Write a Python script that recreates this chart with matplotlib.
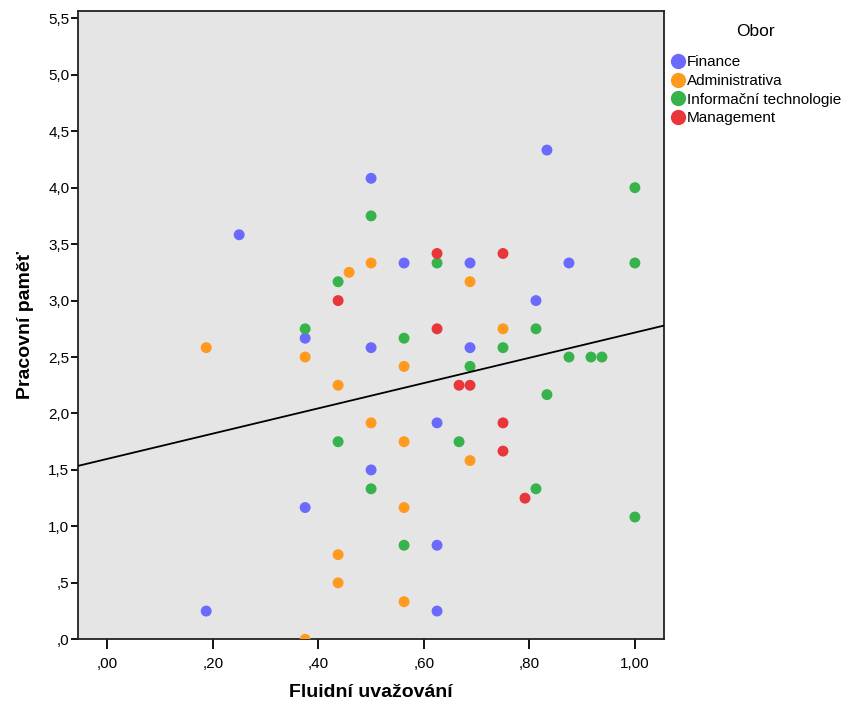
import numpy as np
import matplotlib.pyplot as plt
from matplotlib.lines import Line2D

plt.rcParams['font.family'] = ['Liberation Sans', 'DejaVu Sans']

# Data (x = Fluidní uvažování, y = Pracovní paměť)
finance_x = [0.1875, 0.25, 0.375, 0.375, 0.5, 0.5, 0.5, 0.5625, 0.625, 0.625, 0.625,
             0.6875, 0.6875, 0.8125, 0.8333, 0.875]
finance_y = [0.25, 3.583, 2.667, 1.167, 4.083, 2.583, 1.5, 3.333, 1.917, 0.833, 0.25,
             3.333, 2.583, 3.0, 4.333, 3.333]

admin_x = [0.1875, 0.375, 0.375, 0.4375, 0.4375, 0.4375, 0.4583, 0.5, 0.5, 0.5625,
           0.5625, 0.5625, 0.5625, 0.6875, 0.6875, 0.75]
admin_y = [2.583, 2.5, 0.0, 2.25, 0.75, 0.5, 3.25, 3.333, 1.917, 2.417,
           1.75, 1.167, 0.333, 3.167, 1.583, 2.75]

it_x = [0.375, 0.4375, 0.4375, 0.5, 0.5, 0.5625, 0.5625, 0.625, 0.6667, 0.6875,
        0.75, 0.8125, 0.8125, 0.8333, 0.875, 0.9167, 0.9375, 1.0, 1.0, 1.0]
it_y = [2.75, 3.167, 1.75, 3.75, 1.333, 2.667, 0.833, 3.333, 1.75, 2.417,
        2.583, 2.75, 1.333, 2.167, 2.5, 2.5, 2.5, 4.0, 3.333, 1.083]

mgmt_x = [0.4375, 0.625, 0.625, 0.6667, 0.6875, 0.75, 0.75, 0.75, 0.7917]
mgmt_y = [3.0, 3.417, 2.75, 2.25, 2.25, 3.417, 1.917, 1.667, 1.25]

groups = ['Finance', 'Administrativa', 'Informační technologie', 'Management']
colors = ['#6a6aff', '#ff9a1e', '#36b34a', '#e8363a']
xs = [finance_x, admin_x, it_x, mgmt_x]
ys = [finance_y, admin_y, it_y, mgmt_y]

x_ticks = [0.0, 0.2, 0.4, 0.6, 0.8, 1.0]
x_labels = [',00', ',20', ',40', ',60', ',80', '1,00']
y_ticks = [0.0, 0.5, 1.0, 1.5, 2.0, 2.5, 3.0, 3.5, 4.0, 4.5, 5.0, 5.5]
y_labels = [',0', ',5', '1,0', '1,5', '2,0', '2,5', '3,0', '3,5', '4,0', '4,5', '5,0', '5,5']

fig = plt.figure(figsize=(8.43, 7.04), dpi=100)
ax = fig.add_axes([0.0922, 0.0919, 0.696, 0.8925])
ax.set_facecolor('#e5e5e5')

for gx, gy, c in zip(xs, ys, colors):
    ax.scatter(gx, gy, s=62, color=c, edgecolors='none', zorder=3)

# total fit line (linear regression over all points)
all_x = np.concatenate([np.array(v) for v in xs])
all_y = np.concatenate([np.array(v) for v in ys])
slope, intercept = np.polyfit(all_x, all_y, 1)
xlim = (-0.056, 1.056)
lx = np.array(xlim)
ax.plot(lx, intercept + slope * lx, color='black', lw=1.3, zorder=4)

ax.set_xlim(*xlim)
ax.set_ylim(0, 5.565)
ax.set_xticks(x_ticks)
ax.set_xticklabels(x_labels)
ax.set_yticks(y_ticks)
ax.set_yticklabels(y_labels)
ax.tick_params(axis='both', labelsize=11, width=1.3, direction='out')
ax.tick_params(axis='x', length=7, pad=6)
ax.tick_params(axis='y', length=5, pad=1)
for sp in ax.spines.values():
    sp.set_linewidth(1.3)
    sp.set_color('#222222')

ax.set_xlabel('Fluidní uvažování', fontsize=14, fontweight='bold', labelpad=9)
ax.set_ylabel('Pracovní paměť', fontsize=14, fontweight='bold', labelpad=10)

handles = [Line2D([0], [0], marker='o', linestyle='none', markersize=11,
                  markerfacecolor=c, markeredgecolor='none') for c in colors]
leg = fig.legend(handles, groups, loc='upper left', bbox_to_anchor=(0.787, 0.975),
                 frameon=False, title='Obor', fontsize=11, title_fontsize=12.5,
                 handletextpad=0.05, handlelength=1.1, labelspacing=0.3,
                 borderaxespad=0, borderpad=0.4)
leg._legend_box.sep = 12

fig.savefig('out.png', dpi=100)
